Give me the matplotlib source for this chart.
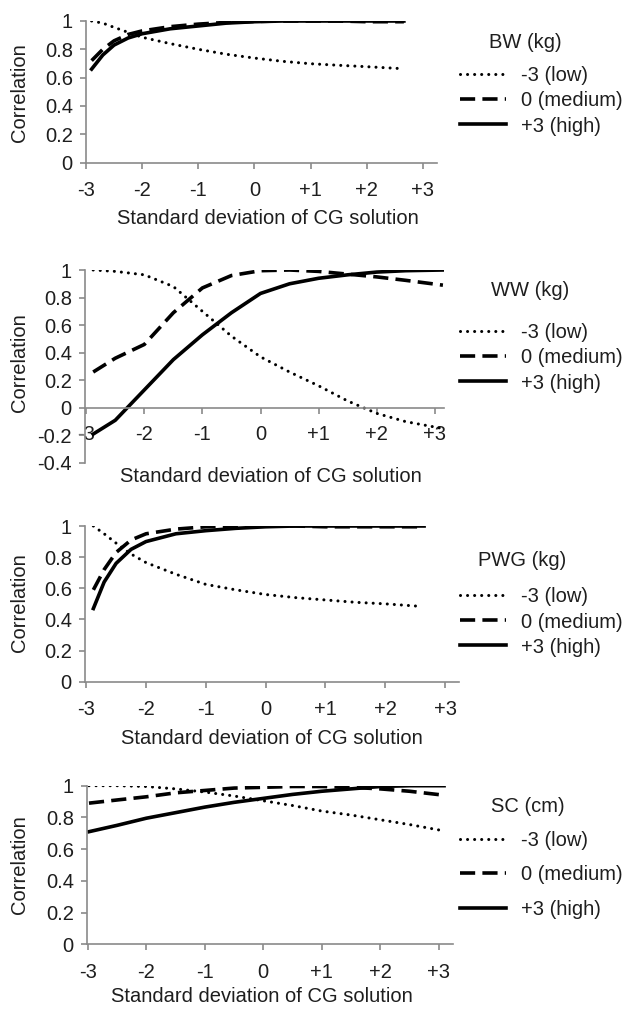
import matplotlib
matplotlib.use("Agg")
import matplotlib.pyplot as plt
from matplotlib.ticker import FixedLocator, FuncFormatter

plt.rcParams['font.family'] = ['Liberation Sans', 'DejaVu Sans']

# ---------------- data ----------------
x_ticks = [-3, -2, -1, 0, 1, 2, 3]
x_tick_labels = ["-3", "-2", "-1", "0", "+1", "+2", "+3"]
series_labels = ["-3 (low)", "0 (medium)", "+3 (high)"]
panel_titles = ["BW (kg)", "WW (kg)", "PWG (kg)", "SC (cm)"]

# BW
bw_x_low = [-2.9, -2.7, -2.5, -2.25, -2.0, -1.5, -1.0, -0.5, 0.0, 0.5, 1.0, 1.5, 2.0, 2.55]
bw_low = [1.0, 0.985, 0.955, 0.92, 0.885, 0.84, 0.80, 0.765, 0.738, 0.715, 0.698, 0.687, 0.677, 0.665]
bw_x = [-2.9, -2.7, -2.5, -2.25, -2.0, -1.5, -1.0, -0.5, 0.0, 0.5, 1.0, 1.5, 2.0, 2.66]
bw_med = [0.72, 0.80, 0.86, 0.905, 0.93, 0.96, 0.978, 0.99, 0.997, 1.0, 1.0, 1.0, 0.995, 0.995]
bw_high = [0.66, 0.76, 0.83, 0.88, 0.91, 0.945, 0.965, 0.985, 0.995, 1.0, 1.0, 1.0, 1.0, 1.0]

# WW
ww_x = [-2.88, -2.5, -2.0, -1.5, -1.0, -0.5, 0.0, 0.5, 1.0, 1.5, 2.0, 2.5, 3.14]
ww_low = [1.0, 0.99, 0.965, 0.88, 0.70, 0.52, 0.37, 0.26, 0.16, 0.05, -0.04, -0.10, -0.15]
ww_med = [0.26, 0.36, 0.46, 0.69, 0.87, 0.96, 0.995, 1.0, 0.99, 0.97, 0.95, 0.925, 0.89]
ww_high = [-0.19, -0.09, 0.13, 0.35, 0.53, 0.69, 0.83, 0.90, 0.94, 0.965, 0.985, 0.995, 1.0]

# PWG
pwg_x_low = [-2.88, -2.7, -2.5, -2.25, -2.0, -1.5, -1.0, -0.5, 0.0, 0.5, 1.0, 1.5, 2.0, 2.55]
pwg_low = [1.0, 0.95, 0.89, 0.82, 0.765, 0.69, 0.625, 0.59, 0.56, 0.54, 0.525, 0.51, 0.50, 0.485]
pwg_x = [-2.88, -2.7, -2.5, -2.25, -2.0, -1.5, -1.0, -0.5, 0.0, 0.5, 1.0, 1.5, 2.0, 2.65]
pwg_med = [0.59, 0.72, 0.83, 0.91, 0.95, 0.98, 0.995, 1.0, 1.0, 1.0, 0.995, 0.995, 0.995, 0.995]
pwg_high = [0.47, 0.64, 0.76, 0.85, 0.90, 0.95, 0.97, 0.985, 0.995, 1.0, 1.0, 1.0, 1.0, 1.0]

# SC
sc_x = [-2.98, -2.5, -2.0, -1.5, -1.0, -0.5, 0.0, 0.5, 1.0, 1.5, 2.0, 2.5, 3.09]
sc_low = [1.0, 1.0, 0.995, 0.98, 0.96, 0.935, 0.905, 0.875, 0.84, 0.815, 0.785, 0.755, 0.715]
sc_med = [0.89, 0.91, 0.93, 0.955, 0.97, 0.985, 0.99, 0.995, 0.995, 0.99, 0.98, 0.965, 0.94]
sc_high = [0.71, 0.75, 0.795, 0.83, 0.865, 0.895, 0.92, 0.945, 0.965, 0.98, 0.995, 1.0, 1.0]

panels = [
    dict(xs=[bw_x_low, bw_x, bw_x], ys=[bw_low, bw_med, bw_high]),
    dict(xs=[ww_x, ww_x, ww_x], ys=[ww_low, ww_med, ww_high]),
    dict(xs=[pwg_x_low, pwg_x, pwg_x], ys=[pwg_low, pwg_med, pwg_high]),
    dict(xs=[sc_x, sc_x, sc_x], ys=[sc_low, sc_med, sc_high]),
]

# ---------------- layout ----------------
W, H = 631, 1010
fig = plt.figure(figsize=(W / 100, H / 100), dpi=100)

def fx(px):
    return px / W

def fy(py):
    return 1 - py / H

# (left px, right px, top px, bottom px, xlim, ylim)
geo = [
    (86, 437, 21.0, 162.5, (-3.0, 3.25), (0, 1)),
    (85, 443.5, 270.0, 463.0, (-3.021, 3.15), (-0.4, 1)),
    (85, 459, 526.0, 681.7, (-3.02, 3.234), (0, 1)),
    (87, 453, 785.7, 944.3, (-3.014, 3.243), (0, 1)),
]
xlabel_pos = [(268, 218), (271, 477), (272, 738), (262, 996)]
ylabel_pos = [(20, 93), (20, 363), (20, 603), (20, 865)]
title_pos = [(525, 42), (530, 290), (522, 560), (528, 806)]
legend_mid = [101, 358, 622, 875]
legend_spacing = [0.3, 0.3, 0.3, 0.75]

axis_col = "#8a8a8a"
text_col = "#1e1e1e"
fs = 14.5

styles = [
    dict(linestyle=(0, (0.01, 2.3)), linewidth=2.2, dash_capstyle='round'),
    dict(linestyle=(0, (4.2, 2.0)), linewidth=2.6),
    dict(linestyle='-', linewidth=2.6),
]

for i, (pan, g) in enumerate(zip(panels, geo)):
    l, r, t, b, xl, yl = g
    ax = fig.add_axes([fx(l), fy(b), fx(r) - fx(l), (b - t) / H])
    handles = []
    for xs, ys, st, lab in zip(pan['xs'], pan['ys'], styles, series_labels):
        h, = ax.plot(xs, ys, color='black', label=lab, **st)
        handles.append(h)
    ax.set_xlim(*xl)
    ax.set_ylim(*yl)
    ax.set_facecolor('none')
    for s in ['top', 'right']:
        ax.spines[s].set_visible(False)
    for s in ['left', 'bottom']:
        ax.spines[s].set_color(axis_col)
        ax.spines[s].set_linewidth(1.2)
    if yl[0] < 0:
        ax.spines['bottom'].set_position(('data', 0))
    yt = [round(yl[0] + 0.2 * k, 1) for k in range(int(round((yl[1] - yl[0]) / 0.2)) + 1)]
    ax.yaxis.set_major_locator(FixedLocator(yt))
    ax.yaxis.set_major_formatter(FuncFormatter(lambda v, p: f"{v:g}"))
    ax.set_xticks(x_ticks)
    ax.set_xticklabels(x_tick_labels)
    ax.tick_params(axis='both', colors=axis_col, labelcolor=text_col, labelsize=fs,
                   length=4.5, width=1.2, direction='out')
    ax.tick_params(axis='y', pad=5)
    ax.tick_params(axis='x', pad=9 if yl[0] >= 0 else 8)

    fig.text(fx(xlabel_pos[i][0]), fy(xlabel_pos[i][1]), "Standard deviation of CG solution",
             ha='center', va='center', fontsize=fs, color=text_col)
    fig.text(fx(ylabel_pos[i][0]), fy(ylabel_pos[i][1]), "Correlation", rotation=90,
             ha='center', va='center', fontsize=fs, color=text_col)
    fig.text(fx(title_pos[i][0]), fy(title_pos[i][1]), panel_titles[i],
             ha='center', va='center', fontsize=fs, color=text_col)
    ax.legend(handles=handles, loc='center left',
              bbox_to_anchor=(fx(460), fy(legend_mid[i])), bbox_transform=fig.transFigure,
              frameon=False, fontsize=fs, handlelength=2.3, handletextpad=0.75,
              labelspacing=legend_spacing[i], borderpad=0, borderaxespad=0,
              labelcolor=text_col)

fig.savefig("out.png", dpi=100)
